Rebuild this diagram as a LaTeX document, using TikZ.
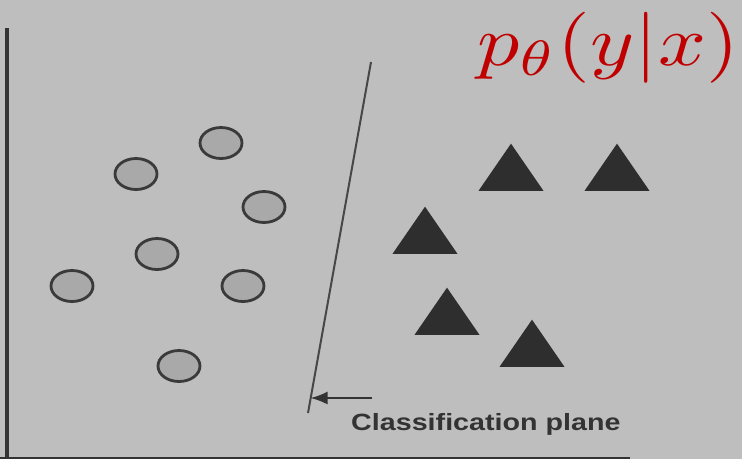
\documentclass[tikz,border=0pt]{standalone}
\usepackage{fontspec}
\newfontfamily\labelfont{Liberation Sans}
\usetikzlibrary{arrows.meta}
\definecolor{bg}{HTML}{BEBEBE}
\definecolor{dotfill}{HTML}{A9A9A9}
\definecolor{dotline}{HTML}{3A3A3A}
\definecolor{trifill}{HTML}{2E2E2E}
\definecolor{ink}{HTML}{333333}
\definecolor{formred}{HTML}{C00000}
\tikzset{
  dot/.style={draw=dotline, fill=dotfill, line width=2.8pt},
  tri/.style={draw=trifill, fill=trifill, line width=1.5pt, line join=miter},
  frame/.style={draw=ink, line width=3.5pt},
  plane/.style={draw=ink!90, line width=2pt},
}
\begin{document}
\begin{tikzpicture}[x=1pt,y=-1pt]
\fill[bg] (0,0) rectangle (742,459);
\useasboundingbox (0,0) rectangle (742,459);
% axes
\coordinate (axtop) at (7,28);
\coordinate (axbot) at (7,459);
\draw[frame] (axtop) -- (axbot);
\coordinate (bl) at (0,457.5);
\coordinate (br) at (630,457.5);
\draw[draw=ink, line width=2pt] (bl) -- (br);
% circles
\foreach \n/\x/\y in {c1/221/143, c2/136/174, c3/264/207, c4/157/254, c5/72/286, c6/243/286, c7/179/366}{
  \draw[dot] (\x,\y) ellipse [x radius=21, y radius=15.5];
}
% triangles
\foreach \x/\y in {511/142, 617/142, 425/205, 447/286, 532/318}{
  \filldraw[tri] (\x,\y+3) -- (\x+31,\y+48) -- (\x-31,\y+48) -- cycle;
}
% classification plane
\coordinate (ptop) at (371,62);
\coordinate (pbot) at (308,413);
\draw[plane] (ptop) -- (pbot);
\coordinate (astart) at (372,398);
\coordinate (aend) at (310.5,398);
\draw[draw=ink, line width=2pt, -{Latex[length=17pt,width=13pt]}] (astart) -- (aend);
\node[anchor=base west, inner sep=0pt, text=ink, xscale=1.22] (lab) at (351,430)
  {\labelfont\bfseries\fontsize{23.5}{24}\selectfont Classification plane};
% formula
\node[anchor=base west, inner sep=0pt, text=formred, xscale=8.4, yscale=7.1] (form) at (476,65)
  {$p_\theta(y|x)$};
\end{tikzpicture}
\end{document}
